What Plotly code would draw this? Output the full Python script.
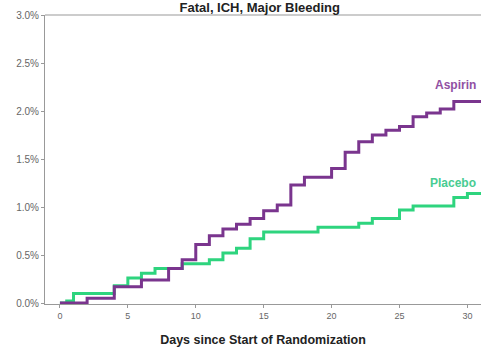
import plotly.graph_objects as go

# Aspirin (days, cumulative %)
aspirin_days = [0, 2, 4, 6, 8, 9, 10, 11, 12, 13, 14, 15, 16, 17, 18, 20, 21, 22, 23, 24, 25, 26, 27, 28, 29, 31]
aspirin_pct = [0.0, 0.05, 0.17, 0.24, 0.36, 0.45, 0.61, 0.70, 0.77, 0.82, 0.88, 0.96, 1.02, 1.23, 1.31, 1.40, 1.57, 1.68, 1.75, 1.80, 1.84, 1.94, 1.98, 2.02, 2.10, 2.10]

# Placebo
placebo_days = [0, 0.5, 1, 4, 5, 6, 7, 9, 11, 12, 13, 14, 15, 19, 22, 23, 25, 26, 29, 30, 31]
placebo_pct = [0.0, 0.02, 0.10, 0.18, 0.26, 0.31, 0.36, 0.41, 0.45, 0.52, 0.57, 0.67, 0.74, 0.79, 0.83, 0.88, 0.97, 1.01, 1.10, 1.14, 1.14]

x_ticks = [0, 5, 10, 15, 20, 25, 30]
y_ticks = [0.0, 0.5, 1.0, 1.5, 2.0, 2.5, 3.0]

title_text = "Fatal, ICH, Major Bleeding"
x_title = "Days since Start of Randomization"

fig = go.Figure()
fig.add_trace(go.Scatter(x=placebo_days, y=placebo_pct, mode="lines", line=dict(shape="hv", color="#2ED47E", width=3), showlegend=False))
fig.add_trace(go.Scatter(x=aspirin_days, y=aspirin_pct, mode="lines", line=dict(shape="hv", color="#7A358E", width=3), showlegend=False))

fig.add_annotation(x=30.75, y=2.27, xref="x", yref="y", text="<b>Aspirin</b>", showarrow=False, xanchor="right",
                   font=dict(family="Liberation Sans, Arial", size=12, color="#9150A3"))
fig.add_annotation(x=30.75, y=1.25, xref="x", yref="y", text="<b>Placebo</b>", showarrow=False, xanchor="right",
                   font=dict(family="Liberation Sans, Arial", size=12, color="#48CC92"))

fig.update_layout(
    width=481, height=347,
    margin=dict(l=45, r=0, t=15, b=43),
    paper_bgcolor="white", plot_bgcolor="white",
    font=dict(family="Liberation Sans, Arial", color="#555555"),
    title=dict(text="<b>" + title_text + "</b>", x=0.54, xanchor="center", y=0.992, yanchor="top", yref="container",
               pad=dict(t=0, b=0), font=dict(size=13, color="#222222")),
)
fig.update_xaxes(range=[-1.1, 31.0], tickvals=x_ticks, ticks="outside", ticklen=3, tickcolor="#999999",
                 showline=True, linecolor="#999999", linewidth=1, mirror=False, showgrid=False, zeroline=False,
                 tickfont=dict(size=9, color="#666666"),
                 title=dict(text="<b>" + x_title + "</b>", font=dict(size=12.5, color="#222222"), standoff=16))
fig.update_yaxes(range=[-0.01, 3.0], tickvals=y_ticks, ticktext=[f"{v:.1f}%" for v in y_ticks], ticks="outside", ticklen=3,
                 tickcolor="#999999", showline=True, linecolor="#999999", linewidth=1, showgrid=False, zeroline=False,
                 tickfont=dict(size=10, color="#666666"))
# top border line
fig.add_shape(type="line", xref="paper", yref="paper", x0=0, x1=1, y0=1, y1=1, line=dict(color="#999999", width=1))

fig.write_html("out.html")
